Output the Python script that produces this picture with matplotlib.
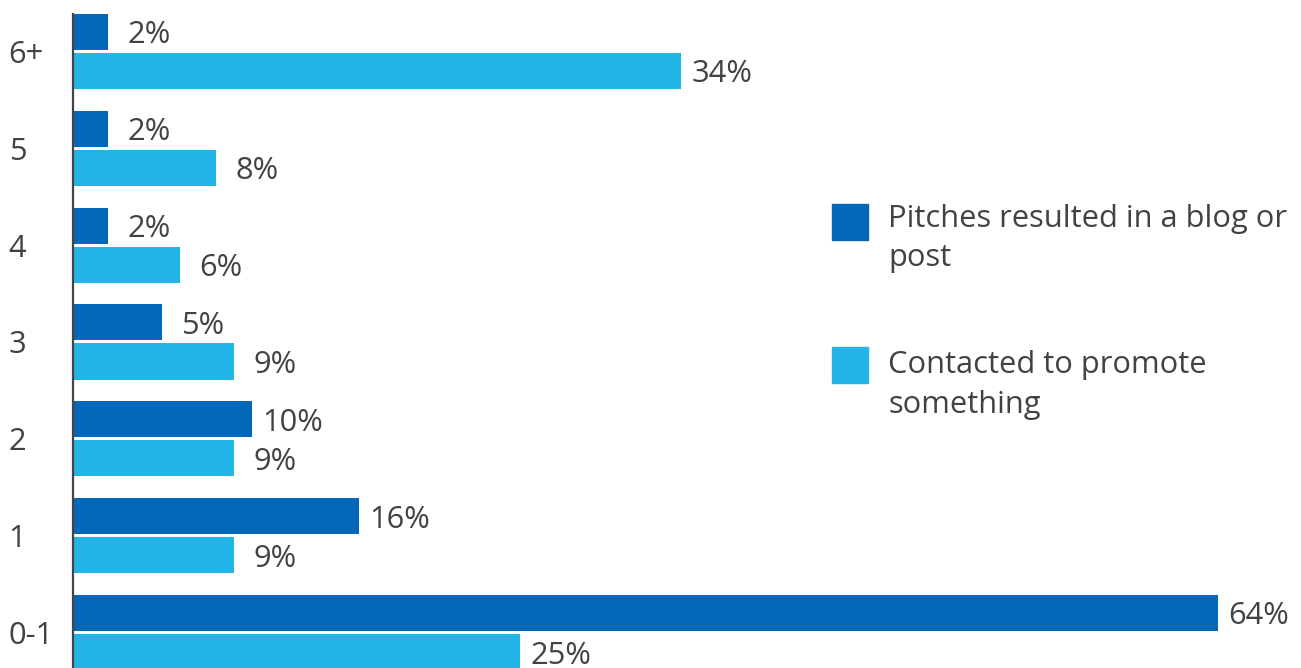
import numpy as np
import matplotlib.pyplot as plt
from matplotlib.patches import Rectangle

plt.rcParams['font.family'] = ['Open Sans', 'DejaVu Sans']

# categories from bottom to top
categories = ['0-1', '1', '2', '3', '4', '5', '6+']
pitches = [64, 16, 10, 5, 2, 2, 2]
contacted = [25, 9, 9, 9, 6, 8, 34]
series_names = ['Pitches resulted in a blog or\npost', 'Contacted to promote\nsomething']

dark = '#0468BA'
light = '#21B4E7'
text_col = '#424242'
W, H = 1301, 668
fs = 22.2

fig = plt.figure(figsize=(W / 100, H / 100), dpi=100)
ax = fig.add_axes([72.5 / W, 0, 1 - 72.5 / W, (H - 14) / H])

y = np.arange(len(categories))
bh = 0.372
off = 0.2014
ax.barh(y + off, pitches, height=bh, color=dark)
ax.barh(y - off, contacted, height=bh, color=light)

for yy, vals in [(y + off, pitches), (y - off, contacted)]:
    for yi, v in zip(yy, vals):
        ax.annotate(f'{v}%', (v, yi), xytext=(29.5, 0), textcoords='offset points',
                    ha='center', va='center_baseline', fontsize=fs, color=text_col)

ax.set_xlim(0, (W - 72.5) / 17.9)
ax.set_ylim(-0.3666, 6.387)
ax.set_xticks([])
ax.set_yticks(y)
ax.set_yticklabels(categories, fontsize=fs, color=text_col)
ax.tick_params(axis='y', length=0, pad=46)
for lab in ax.get_yticklabels():
    lab.set_horizontalalignment('left')

for s in ['top', 'right', 'bottom']:
    ax.spines[s].set_visible(False)
ax.spines['left'].set_color('#444444')
ax.spines['left'].set_linewidth(1.6)
ax.set_facecolor('none')

# legend drawn by hand: square swatch + wrapped label (pixel positions from top)
sq_tops = [204, 347]
txt_tops = [203.5, 350.5]
for name, col, sq, tt in zip(series_names, [dark, light], sq_tops, txt_tops):
    fig.add_artist(Rectangle((832 / W, 1 - (sq + 36) / H), 36 / W, 36 / H,
                             transform=fig.transFigure, color=col))
    fig.text(888 / W, 1 - tt / H, name, ha='left', va='top',
             fontsize=fs, color=text_col, linespacing=1.41)

fig.savefig('out.png', dpi=100)
